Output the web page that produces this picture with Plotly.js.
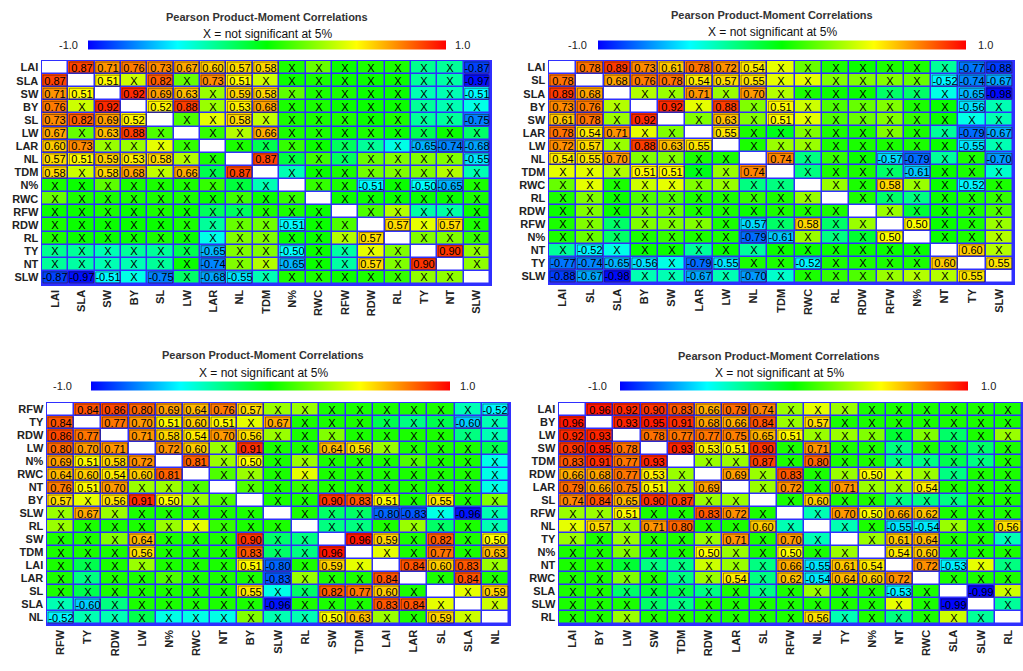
<!DOCTYPE html>
<html>
<head>
<meta charset="utf-8">
<script src="https://cdn.plot.ly/plotly-3.0.1.min.js"></script>
<style>
  html, body { margin: 0; padding: 0; background: #fff; }
  #chart { width: 1023px; height: 671px; }
</style>
</head>
<body>
<div id="chart"></div>
<script>
// ---- Variable orders for the four correlation matrices ----
const labelsA = ['LAI','SLA','SW','BY','SL','LW','LAR','NL','TDM','N%','RWC','RFW','RDW','RL','TY','NT','SLW'];
const labelsB = ['LAI','SL','SLA','BY','SW','LAR','LW','NL','TDM','RWC','RL','RDW','RFW','N%','NT','TY','SLW'];
const labelsC = ['RFW','TY','RDW','LW','N%','RWC','NT','BY','SLW','RL','SW','TDM','LAI','LAR','SL','SLA','NL'];
const labelsD = ['LAI','BY','LW','SW','TDM','RDW','LAR','SL','RFW','NL','TY','N%','NT','RWC','SLA','SLW','RL'];

// ---- Lower triangles of the correlation matrices (row i holds columns 0..i-1) ----
const corrA = [
  [],
  [0.87],
  [0.71, 0.51],
  [0.76, 0.40, 0.92],
  [0.73, 0.82, 0.69, 0.52],
  [0.67, 0.20, 0.63, 0.88, 0.15],
  [0.60, 0.73, 0.30, 0.30, 0.45, 0.10],
  [0.57, 0.51, 0.59, 0.53, 0.58, 0.35, 0.05],
  [0.58, 0.40, 0.58, 0.68, 0.38, 0.66, -0.15, 0.87],
  [0.05, 0.02, 0.18, 0.05, 0.05, 0.05, 0.10, -0.12, -0.35],
  [0.20, 0.05, 0.05, 0.05, 0.05, 0.05, 0.02, 0.12, 0.02, 0.10],
  [0.02, 0.02, 0.05, 0.02, 0.05, 0.02, -0.18, -0.18, 0.05, 0.05, 0.02],
  [0.05, 0.02, 0.02, 0.02, 0.02, 0.05, -0.30, 0.20, 0.22, -0.51, 0.02, 0.15],
  [0.05, 0.02, 0.02, 0.02, 0.05, 0.02, -0.45, 0.25, 0.25, 0.02, 0.02, 0.35, 0.57],
  [-0.28, -0.30, -0.35, -0.30, -0.30, -0.15, -0.65, 0.25, 0.25, -0.50, 0.02, -0.32, 0.45, 0.25],
  [-0.30, -0.32, -0.35, -0.35, -0.30, 0.02, -0.74, 0.25, 0.35, -0.65, 0.02, -0.32, 0.57, 0.25, 0.90],
  [-0.87, -0.97, -0.51, -0.45, -0.75, -0.20, -0.68, -0.55, -0.35, 0.05, 0.05, 0.02, 0.05, 0.10, 0.28, 0.28]
];

const corrB = [
  [],
  [0.78],
  [0.89, 0.68],
  [0.73, 0.76, 0.35],
  [0.61, 0.78, 0.30, 0.92],
  [0.78, 0.54, 0.71, 0.45, 0.25],
  [0.72, 0.57, 0.30, 0.88, 0.63, 0.55],
  [0.54, 0.55, 0.70, 0.25, 0.25, 0.05, 0.05],
  [0.45, 0.45, 0.35, 0.51, 0.51, -0.05, 0.30, 0.74],
  [0.20, 0.45, 0.05, 0.40, 0.45, 0.25, 0.30, -0.25, -0.25],
  [0.05, 0.25, 0.02, 0.15, 0.15, 0.05, 0.05, 0.10, 0.05, 0.30],
  [0.02, 0.25, 0.02, 0.20, 0.20, 0.05, 0.05, 0.02, 0.05, 0.05, 0.05],
  [0.05, 0.25, -0.20, 0.25, 0.25, 0.25, 0.05, -0.57, -0.20, 0.58, -0.20, 0.30],
  [0.05, 0.20, -0.20, 0.05, 0.10, 0.05, 0.05, -0.79, -0.61, 0.30, -0.25, -0.10, 0.50],
  [-0.30, -0.52, -0.45, 0.02, 0.02, -0.30, 0.02, -0.30, 0.02, 0.02, 0.02, 0.02, 0.02, 0.02],
  [-0.77, -0.74, -0.65, -0.56, -0.45, -0.79, -0.55, 0.05, 0.05, -0.52, 0.05, 0.05, 0.05, 0.05, 0.60],
  [-0.88, -0.67, -0.98, -0.35, -0.35, -0.67, -0.35, -0.70, -0.40, 0.05, 0.10, 0.15, 0.30, 0.35, 0.35, 0.55]
];

const corrC = [
  [],
  [0.84],
  [0.86, 0.77],
  [0.80, 0.70, 0.71],
  [0.69, 0.51, 0.58, 0.72],
  [0.64, 0.60, 0.54, 0.60, 0.81],
  [0.76, 0.51, 0.70, 0.30, 0.30, 0.15],
  [0.57, 0.45, 0.56, 0.91, 0.50, 0.30, 0.15],
  [0.30, 0.67, 0.30, 0.05, 0.05, 0.05, 0.05, 0.05],
  [0.30, 0.05, 0.05, 0.05, 0.30, 0.45, 0.10, 0.05, 0.05],
  [0.05, 0.05, 0.25, 0.64, 0.05, 0.05, 0.05, 0.90, -0.20, -0.25],
  [0.05, 0.05, 0.05, 0.56, 0.05, 0.05, 0.05, 0.83, -0.20, -0.25, 0.96],
  [0.05, -0.15, 0.05, 0.30, 0.05, 0.05, 0.05, 0.51, -0.80, 0.05, 0.59, 0.45],
  [0.05, -0.25, 0.05, 0.05, 0.15, 0.05, 0.05, 0.05, -0.83, 0.30, 0.05, 0.05, 0.84],
  [0.05, -0.15, 0.05, 0.05, 0.05, 0.05, 0.05, 0.55, -0.45, -0.20, 0.82, 0.77, 0.60, 0.05],
  [-0.35, -0.60, -0.25, 0.05, 0.05, 0.05, 0.05, 0.05, -0.96, 0.05, 0.05, 0.05, 0.83, 0.84, 0.45],
  [-0.52, -0.35, -0.35, -0.15, -0.45, -0.45, -0.45, 0.25, -0.35, -0.35, 0.50, 0.63, 0.30, 0.05, 0.59, 0.40]
];

const corrD = [
  [],
  [0.96],
  [0.92, 0.93],
  [0.90, 0.95, 0.78],
  [0.83, 0.91, 0.77, 0.93],
  [0.66, 0.68, 0.77, 0.53, 0.30],
  [0.79, 0.66, 0.75, 0.51, 0.30, 0.69],
  [0.74, 0.84, 0.65, 0.90, 0.87, 0.30, 0.30],
  [0.30, 0.30, 0.51, 0.05, 0.05, 0.83, 0.72, 0.05],
  [0.45, 0.57, 0.30, 0.71, 0.80, 0.05, 0.05, 0.60, -0.35],
  [0.30, 0.05, 0.30, 0.05, 0.05, 0.30, 0.71, 0.05, 0.70, -0.35],
  [0.05, 0.05, 0.25, 0.05, 0.05, 0.50, 0.30, 0.05, 0.50, 0.05, 0.30],
  [0.05, 0.05, -0.10, -0.25, -0.25, 0.40, 0.30, -0.25, 0.66, -0.55, 0.61, 0.54],
  [0.05, 0.05, 0.25, 0.05, -0.25, 0.30, 0.54, -0.25, 0.62, -0.54, 0.64, 0.60, 0.72],
  [0.05, 0.05, -0.20, -0.10, -0.15, -0.25, 0.05, -0.25, 0.05, 0.30, 0.05, 0.05, -0.53, 0.05],
  [0.05, 0.05, 0.05, -0.20, -0.25, 0.05, 0.05, 0.05, 0.05, 0.05, 0.05, 0.05, 0.45, 0.05, -0.99],
  [0.05, 0.05, 0.30, 0.05, 0.05, 0.05, 0.05, 0.05, 0.05, 0.56, -0.35, 0.05, -0.25, 0.05, 0.40, -0.30]
];

// Correlations at or beyond this magnitude are printed; the rest are marked X
const SIG_LEVEL = 0.5;
const TITLE_TEXT = 'Pearson Product-Moment Correlations';
const SUBTITLE_TEXT = 'X = not significant at 5%';

// ---- Page geometry (pixels) ----
const W = 1023, H = 671;
const fx = px => px / W;
const fy = py => 1 - py / H;

const panels = [
  { labels: labelsA, lower: corrA, box: [42, 490, 61, 284],   titleX: 267, titleY: 17,  subY: 34,  bar: [88, 446, 45.5],   minX: 68,  maxX: 462 },
  { labels: labelsB, lower: corrB, box: [549, 1013, 61, 283],  titleX: 772, titleY: 15,  subY: 32,  bar: [598, 966, 44.5],  minX: 577, maxX: 985 },
  { labels: labelsC, lower: corrC, box: [47, 509, 403, 624],   titleX: 263, titleY: 355, subY: 373, bar: [91, 450, 385.5],  minX: 62,  maxX: 467 },
  { labels: labelsD, lower: corrD, box: [559, 1022, 403, 624], titleX: 779, titleY: 356, subY: 373, bar: [620, 968, 385.5], minX: 597, maxX: 988 }
];

const rainbow = [[0, '#0000ff'], [0.25, '#00ffff'], [0.5, '#00ff00'], [0.75, '#ffff00'], [1, '#ff0000']];
const GRID_BLUE = '#2f2fff';
const FONT = 'Liberation Sans, Arial, sans-serif';

const traces = [];
const shapes = [];
const annotations = [];
const layout = {
  width: W, height: H,
  margin: { l: 0, r: 0, t: 0, b: 0 },
  paper_bgcolor: '#ffffff',
  plot_bgcolor: GRID_BLUE,
  showlegend: false,
  font: { family: FONT, color: '#222' }
};

function note(x, y, text, font) {
  return { xref: 'paper', yref: 'paper', x: fx(x), y: fy(y), xanchor: 'center', yanchor: 'middle',
           showarrow: false, text: text, font: font };
}

panels.forEach((p, k) => {
  const n = p.labels.length;
  const sfx = k === 0 ? '' : String(k + 1);
  const xa = 'x' + sfx, ya = 'y' + sfx;

  // Expand the lower triangle into the full symmetric matrix
  const z = [], txt = [], diag = [];
  for (let i = 0; i < n; i++) {
    const zr = [], tr = [], dr = [];
    for (let j = 0; j < n; j++) {
      if (i === j) { zr.push(null); tr.push(''); dr.push(1); continue; }
      const v = i > j ? p.lower[i][j] : p.lower[j][i];
      zr.push(v);
      const sig = Math.abs(v) >= SIG_LEVEL;
      tr.push(sig ? v.toFixed(2) : 'X');
      dr.push(null);
      if (sig) {
        // thin dark frame around every printed coefficient
        shapes.push({
          type: 'rect', xref: xa, yref: ya, layer: 'above',
          x0: j - 0.46, x1: j + 0.46, y0: i - 0.42, y1: i + 0.42,
          line: { color: 'rgba(40,20,0,0.45)', width: 1 }
        });
      }
    }
    z.push(zr); txt.push(tr); diag.push(dr);
  }

  const [bx0, bx1, by] = p.bar;
  traces.push({
    type: 'heatmap', xaxis: xa, yaxis: ya,
    x: p.labels, y: p.labels, z: z, text: txt,
    texttemplate: '%{text}',
    textfont: { family: FONT, size: 11, color: '#000' },
    zmin: -1, zmax: 1, colorscale: rainbow,
    xgap: 1.5, ygap: 1.5, hoverinfo: 'skip',
    showscale: true,
    colorbar: {
      orientation: 'h', x: fx((bx0 + bx1) / 2), xanchor: 'center',
      y: fy(by), yanchor: 'middle',
      lenmode: 'pixels', len: bx1 - bx0,
      thicknessmode: 'pixels', thickness: 9,
      showticklabels: false, ticks: '', outlinewidth: 0,
      xpad: 0, ypad: 0
    }
  });
  // White diagonal cells
  traces.push({
    type: 'heatmap', xaxis: xa, yaxis: ya,
    x: p.labels, y: p.labels, z: diag,
    zmin: 0, zmax: 1, colorscale: [[0, '#ffffff'], [1, '#ffffff']],
    showscale: false, xgap: 1.5, ygap: 1.5, hoverinfo: 'skip'
  });

  const [x0, x1, y0, y1] = p.box;
  layout['xaxis' + sfx] = {
    domain: [fx(x0), fx(x1)], anchor: ya, type: 'category',
    categoryorder: 'array', categoryarray: p.labels,
    tickangle: -90, ticks: '', showgrid: false, zeroline: false,
    showline: true, mirror: true, linecolor: GRID_BLUE, linewidth: 1.5,
    tickfont: { family: FONT, size: 11, color: '#222', weight: 'bold' },
    fixedrange: true
  };
  layout['yaxis' + sfx] = {
    domain: [fy(y1), fy(y0)], anchor: xa, type: 'category',
    categoryorder: 'array', categoryarray: p.labels,
    autorange: 'reversed', ticks: '', showgrid: false, zeroline: false,
    showline: true, mirror: true, linecolor: GRID_BLUE, linewidth: 1.5,
    tickfont: { family: FONT, size: 11, color: '#222', weight: 'bold' },
    fixedrange: true
  };

  annotations.push(
    note(p.titleX, p.titleY, TITLE_TEXT, { family: FONT, size: 11, color: '#333', weight: 'bold' }),
    note(p.titleX, p.subY, SUBTITLE_TEXT, { family: FONT, size: 12, color: '#111' }),
    note(p.minX, by, '-1.0', { family: FONT, size: 11, color: '#222' }),
    note(p.maxX, by, '1.0', { family: FONT, size: 11, color: '#222' })
  );
});

layout.shapes = shapes;
layout.annotations = annotations;

Plotly.newPlot('chart', traces, layout, { displayModeBar: false, staticPlot: true });
</script>
</body>
</html>
